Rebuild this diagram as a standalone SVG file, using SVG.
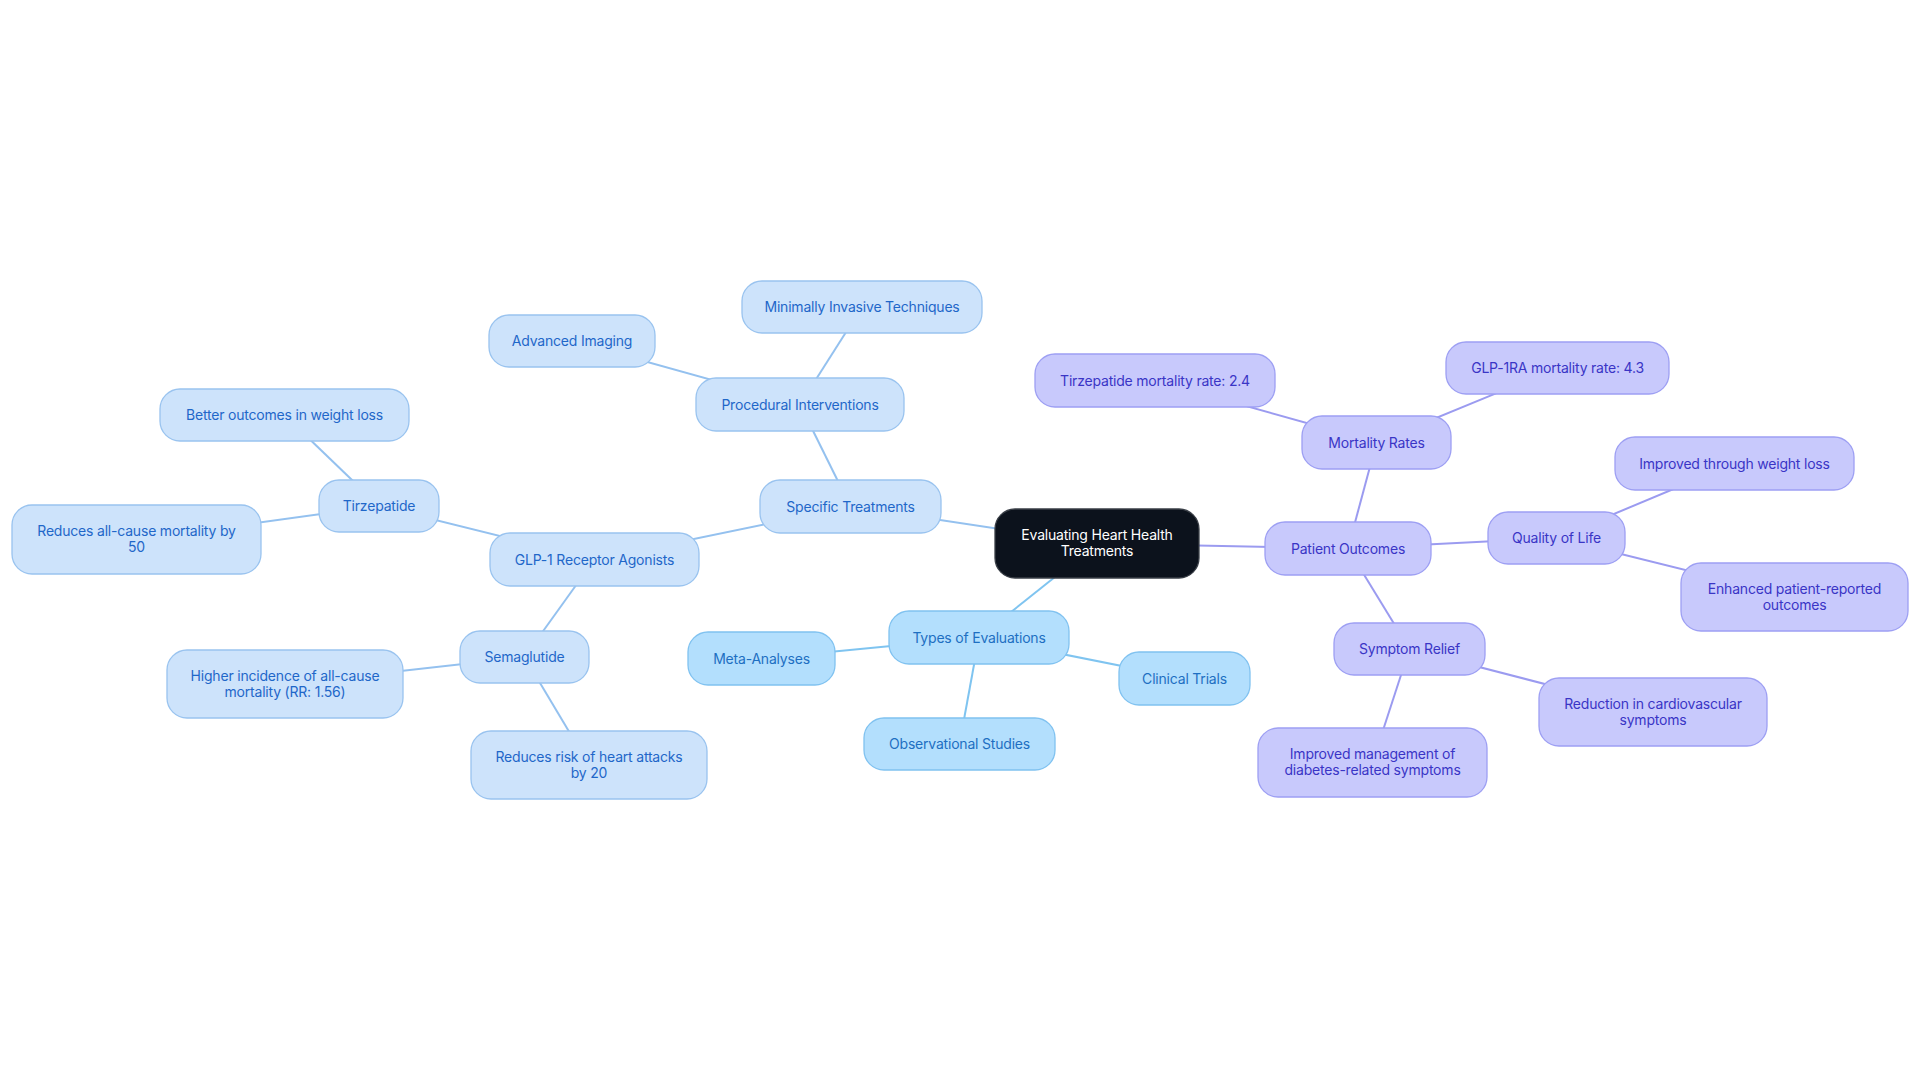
<svg xmlns="http://www.w3.org/2000/svg" width="1920" height="1083" viewBox="0 0 1920 1083">
<style>
text{font-family:Inter,"Liberation Sans",sans-serif;font-size:14px;letter-spacing:-0.2px;text-anchor:middle}
.b rect{fill:#cde3fb;stroke:#99c3ef;stroke-width:1.3}
.b text{fill:#1f67c9}
.s rect{fill:#b3dffd;stroke:#80c2f0;stroke-width:1.3}
.s text{fill:#1e6fc2}
.p rect{fill:#c8c9fc;stroke:#9d9ff3;stroke-width:1.3}
.p text{fill:#3a35c6}
.c rect{fill:#0c121c;stroke:#3a3f47;stroke-width:1.3}
.c text{fill:#ffffff}
#connectors line{stroke-width:2;fill:none}
.lb{stroke:#94c1ef}
.ls{stroke:#7fc4f0}
.lp{stroke:#9b9bf0}
</style>
<rect width="1920" height="1083" fill="#ffffff"/>
<g id="connectors">
<line class="lb" x1="1097" y1="543.5" x2="850.5" y2="506.5"/>
<line class="ls" x1="1097" y1="543.5" x2="979" y2="637.5"/>
<line class="lp" x1="1097" y1="543.5" x2="1348" y2="548.5"/>
<line class="lb" x1="850.5" y1="506.5" x2="800" y2="404.5"/>
<line class="lb" x1="850.5" y1="506.5" x2="594.5" y2="559.5"/>
<line class="lb" x1="800" y1="404.5" x2="862" y2="307"/>
<line class="lb" x1="800" y1="404.5" x2="572" y2="341"/>
<line class="lb" x1="594.5" y1="559.5" x2="379" y2="506"/>
<line class="lb" x1="594.5" y1="559.5" x2="524.5" y2="657"/>
<line class="lb" x1="379" y1="506" x2="284.5" y2="415"/>
<line class="lb" x1="379" y1="506" x2="136.5" y2="539.5"/>
<line class="lb" x1="524.5" y1="657" x2="285" y2="684"/>
<line class="lb" x1="524.5" y1="657" x2="589" y2="765"/>
<line class="ls" x1="979" y1="637.5" x2="761.5" y2="658.5"/>
<line class="ls" x1="979" y1="637.5" x2="1184.5" y2="678.5"/>
<line class="ls" x1="979" y1="637.5" x2="959.5" y2="744"/>
<line class="lp" x1="1348" y1="548.5" x2="1376.5" y2="442.5"/>
<line class="lp" x1="1348" y1="548.5" x2="1556.5" y2="538"/>
<line class="lp" x1="1348" y1="548.5" x2="1409.5" y2="649"/>
<line class="lp" x1="1376.5" y1="442.5" x2="1155" y2="380.5"/>
<line class="lp" x1="1376.5" y1="442.5" x2="1557.5" y2="368"/>
<line class="lp" x1="1556.5" y1="538" x2="1734.5" y2="463.5"/>
<line class="lp" x1="1556.5" y1="538" x2="1794.5" y2="597"/>
<line class="lp" x1="1409.5" y1="649" x2="1653" y2="712"/>
<line class="lp" x1="1409.5" y1="649" x2="1372.5" y2="762.5"/>
</g>
<g id="n-root" class="c"><rect x="995" y="509" width="204" height="69" rx="20"/><text x="1097" y="540">Evaluating Heart Health</text><text x="1097" y="556">Treatments</text></g>
<g id="n-specific" class="b"><rect x="760" y="480" width="181" height="53" rx="20"/><text x="850.5" y="511.5">Specific Treatments</text></g>
<g id="n-procedural" class="b"><rect x="696" y="378" width="208" height="53" rx="20"/><text x="800" y="409.5">Procedural Interventions</text></g>
<g id="n-minimally" class="b"><rect x="742" y="281" width="240" height="52" rx="20"/><text x="862" y="312">Minimally Invasive Techniques</text></g>
<g id="n-imaging" class="b"><rect x="489" y="315" width="166" height="52" rx="20"/><text x="572" y="346">Advanced Imaging</text></g>
<g id="n-glp1" class="b"><rect x="490" y="533" width="209" height="53" rx="20"/><text x="594.5" y="564.5">GLP-1 Receptor Agonists</text></g>
<g id="n-tirzepatide" class="b"><rect x="319" y="480" width="120" height="52" rx="20"/><text x="379" y="511">Tirzepatide</text></g>
<g id="n-better" class="b"><rect x="160" y="389" width="249" height="52" rx="20"/><text x="284.5" y="420">Better outcomes in weight loss</text></g>
<g id="n-reduces-mortality" class="b"><rect x="12" y="505" width="249" height="69" rx="20"/><text x="136.5" y="536">Reduces all-cause mortality by</text><text x="136.5" y="552">50</text></g>
<g id="n-semaglutide" class="b"><rect x="460" y="631" width="129" height="52" rx="20"/><text x="524.5" y="662">Semaglutide</text></g>
<g id="n-higher" class="b"><rect x="167" y="650" width="236" height="68" rx="20"/><text x="285" y="680.5">Higher incidence of all-cause</text><text x="285" y="696.5">mortality (RR: 1.56)</text></g>
<g id="n-heart-attacks" class="b"><rect x="471" y="731" width="236" height="68" rx="20"/><text x="589" y="761.5">Reduces risk of heart attacks</text><text x="589" y="777.5">by 20</text></g>
<g id="n-types" class="s"><rect x="889" y="611" width="180" height="53" rx="20"/><text x="979" y="642.5">Types of Evaluations</text></g>
<g id="n-meta" class="s"><rect x="688" y="632" width="147" height="53" rx="20"/><text x="761.5" y="663.5">Meta-Analyses</text></g>
<g id="n-clinical" class="s"><rect x="1119" y="652" width="131" height="53" rx="20"/><text x="1184.5" y="683.5">Clinical Trials</text></g>
<g id="n-observational" class="s"><rect x="864" y="718" width="191" height="52" rx="20"/><text x="959.5" y="749">Observational Studies</text></g>
<g id="n-outcomes" class="p"><rect x="1265" y="522" width="166" height="53" rx="20"/><text x="1348" y="553.5">Patient Outcomes</text></g>
<g id="n-mortality" class="p"><rect x="1302" y="416" width="149" height="53" rx="20"/><text x="1376.5" y="447.5">Mortality Rates</text></g>
<g id="n-tirz-rate" class="p"><rect x="1035" y="354" width="240" height="53" rx="20"/><text x="1155" y="385.5">Tirzepatide mortality rate: 2.4</text></g>
<g id="n-glp-rate" class="p"><rect x="1446" y="342" width="223" height="52" rx="20"/><text x="1557.5" y="373">GLP-1RA mortality rate: 4.3</text></g>
<g id="n-quality" class="p"><rect x="1488" y="512" width="137" height="52" rx="20"/><text x="1556.5" y="543">Quality of Life</text></g>
<g id="n-weight" class="p"><rect x="1615" y="437" width="239" height="53" rx="20"/><text x="1734.5" y="468.5">Improved through weight loss</text></g>
<g id="n-enhanced" class="p"><rect x="1681" y="563" width="227" height="68" rx="20"/><text x="1794.5" y="593.5">Enhanced patient-reported</text><text x="1794.5" y="609.5">outcomes</text></g>
<g id="n-symptom" class="p"><rect x="1334" y="623" width="151" height="52" rx="20"/><text x="1409.5" y="654">Symptom Relief</text></g>
<g id="n-cardio" class="p"><rect x="1539" y="678" width="228" height="68" rx="20"/><text x="1653" y="708.5">Reduction in cardiovascular</text><text x="1653" y="724.5">symptoms</text></g>
<g id="n-diabetes" class="p"><rect x="1258" y="728" width="229" height="69" rx="20"/><text x="1372.5" y="759">Improved management of</text><text x="1372.5" y="775">diabetes-related symptoms</text></g>
</svg>
